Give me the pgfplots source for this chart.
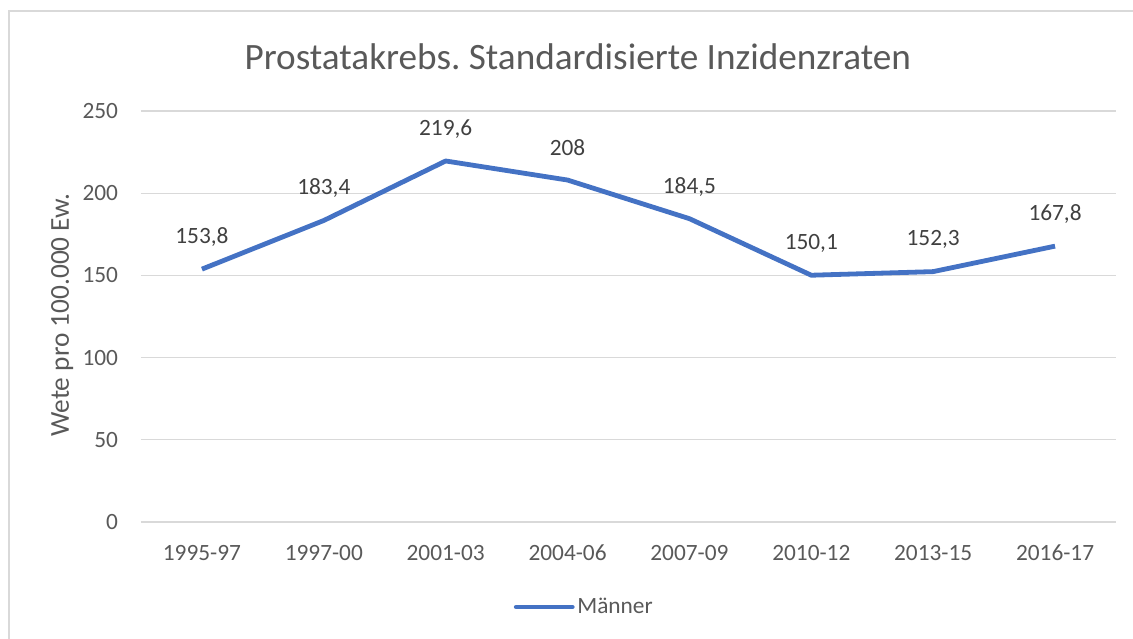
\documentclass[border=0pt]{standalone}
\usepackage{pgfplots}
\pgfplotsset{compat=1.18}
\usepackage{fontspec}
\setmainfont{Carlito}
\frenchspacing
\definecolor{txt}{HTML}{595959}
\definecolor{lbl}{HTML}{404040}
\definecolor{gridc}{HTML}{D9D9D9}
\definecolor{lineblue}{HTML}{4472C4}
\begin{document}
\begin{tikzpicture}
\path[use as bounding box] (0pt,0pt) rectangle (849.75pt,479.25pt);
\draw[gridc, line width=1.2pt] (6.75pt,-2pt) -- (6.75pt,471pt) -- (852pt,471pt);
\begin{axis}[
  at={(105.75pt,87.75pt)}, anchor=south west,
  scale only axis, width=731.25pt, height=308.25pt,
  xmin=-0.5, xmax=7.5, ymin=0, ymax=250,
  xtick={0,...,7},
  xticklabels={1995-97,1997-00,2001-03,2004-06,2007-09,2010-12,2013-15,2016-17},
  ytick={0,50,...,250},
  ymajorgrids, grid style={gridc, line width=1pt},
  axis line style={draw=none},
  major tick length=0pt,
  /pgf/number format/assume math mode=true,
  ticklabel style={font=\fontsize{17.5}{20}\selectfont, text=txt, inner sep=0pt},
  yticklabel style={anchor=east, xshift=-17pt},
  xticklabel style={anchor=north, yshift=-17pt},
  ylabel={Wete pro 100.000 Ew.},
  ylabel style={font=\fontsize{20.5}{24}\selectfont, text=txt, at={(axis description cs:0,0.5)}, anchor=center, xshift=1pt, yshift=59pt},
  title={Prostatakrebs. Standardisierte Inzidenzraten},
  title style={font=\fontsize{27.9}{33}\selectfont, text=txt, at={(axis description cs:0.448,1)}, anchor=center, yshift=35pt},
  legend style={at={(axis description cs:0.455,-0.207)}, anchor=center, draw=none, fill=none,
    font=\fontsize{17.5}{20}\selectfont, text=txt, inner sep=0pt,
    /tikz/every even column/.append style={column sep=0pt}},
  legend cell align=left,
  legend image code/.code={\draw[#1, line cap=round] (0pt,0pt) -- (42pt,0pt);},
  nodes near coords,
  point meta=explicit symbolic,
  every node near coord/.append style={font=\fontsize{17.5}{20}\selectfont, text=lbl, anchor=center, yshift=24pt},
]
\addplot[lineblue, line width=3.6pt, line join=round, mark=none] table[meta=lab] {
x y lab
0 153.8 153,8
1 183.4 183,4
2 219.6 219,6
3 208 208
4 184.5 184,5
5 150.1 150,1
6 152.3 152,3
7 167.8 167,8
};
\addlegendentry{Männer}
\end{axis}
\end{tikzpicture}
\end{document}
